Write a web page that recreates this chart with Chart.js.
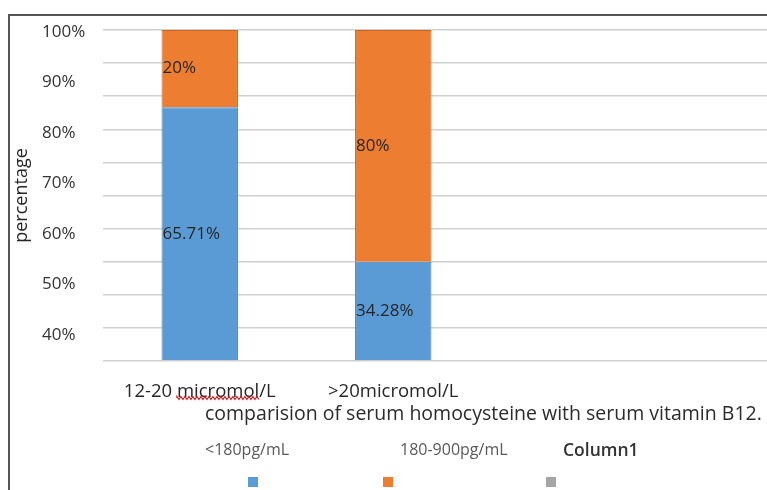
<!DOCTYPE html>
<html>
<head>
<meta charset="utf-8">
<script src="https://cdn.jsdelivr.net/npm/chart.js@4.4.1/dist/chart.umd.min.js"></script>
<style>
    html, body { margin: 0; padding: 0; background: #fff; overflow: hidden; }
    #wrap { position: relative; width: 767px; height: 490px; overflow: hidden; font-family: 'Open Sans', sans-serif; }
    #bingkai { position: absolute; left: 8px; top: 14px; width: 900px; height: 500px; border-top: 2px solid #555; border-left: 2px solid #555; }
    #chartPersen { position: absolute; left: 0; top: 0; }
    #judul { position: absolute; left: 205px; top: 399px; font-size: 19.5px; color: #2b2b2b; white-space: nowrap; }
    .leg-teks { position: absolute; top: 438px; font-size: 16px; color: #595959; white-space: nowrap; }
    .leg-kotak { position: absolute; top: 477px; width: 10px; height: 10px; }
</style>
</head>
<body>
<div id="wrap">
    <div id="bingkai"></div>
    <canvas id="chartPersen" width="880" height="490"></canvas>
    <div id="judul">comparision of serum homocysteine with serum vitamin B12.</div>
    <div id="legenda"></div>
</div>
<script>
// Data dari grafik (nilai mentah, lalu dijadikan 100% bertumpuk)
const categories = ['12-20 micromol/L', '>20micromol/L'];
const below180 = [65.71, 34.28];
const from180to900 = [20, 80];
const column1 = [null, null];
const seriesNames = ['<180pg/mL', '180-900pg/mL', 'Column1'];
const tickLabels = [40, 50, 60, 70, 80, 90, 100];

// total tiap kategori, untuk persentase tumpukan
const totals = categories.map((c, i) => below180[i] + from180to900[i] + (column1[i] || 0));
function share(arr) {
    return arr.map((v, i) => v == null ? null : v / totals[i] * 100);
}

// label nilai di dalam batang (rata kiri seperti aslinya)
const labelNilai = {
    id: 'labelNilai',
    afterDatasetsDraw(chart) {
        const ctx = chart.ctx;
        ctx.save();
        ctx.font = '17px "Open Sans"';
        ctx.fillStyle = '#262626';
        ctx.textAlign = 'left';
        ctx.textBaseline = 'middle';
        chart.data.datasets.forEach((ds, i) => {
            chart.getDatasetMeta(i).data.forEach((bar, j) => {
                const v = ds.raw[j];
                if (v == null) return;
                const p = bar.getProps(['x', 'y', 'base', 'width'], true);
                ctx.fillText(v + '%', p.x - p.width / 2 + 1, (p.y + p.base) / 2);
            });
        });
        ctx.restore();
    }
};

// garis merah bergelombang (spell check) di bawah "micromol"
const gelombang = {
    id: 'gelombang',
    afterDraw(chart) {
        const ctx = chart.ctx;
        const sx = chart.scales.x;
        const teks = categories[0];
        const kata = 'micromol';
        ctx.save();
        ctx.font = '18.5px "Open Sans"';
        const cx = sx.getPixelForTick(0);
        const x0 = cx - ctx.measureText(teks).width / 2 + ctx.measureText(teks.slice(0, teks.indexOf(kata))).width;
        const x1 = x0 + ctx.measureText(kata).width;
        const y = chart.chartArea.bottom + 37;
        ctx.strokeStyle = '#d42020';
        ctx.lineWidth = 1.2;
        ctx.beginPath();
        ctx.moveTo(x0, y);
        for (let x = x0, k = 0; x <= x1; x += 2, k++) {
            ctx.lineTo(x, y + (k % 2 ? 1.5 : -1.5));
        }
        ctx.stroke();
        ctx.restore();
    }
};

const warna = ['#5b9bd5', '#ed7d31', '#a5a5a5'];
const warnaTepi = ['#4a84bb', '#c9651f', '#8c8c8c'];
const rawData = [below180, from180to900, column1];

const chart = new Chart(document.getElementById('chartPersen'), {
    type: 'bar',
    data: {
        // dua baris kosong di tabel Excel ikut jadi kategori
        labels: categories.concat(['', '']),
        datasets: seriesNames.map((nama, i) => ({
            label: nama,
            data: share(rawData[i]),
            raw: rawData[i],
            backgroundColor: warna[i],
            borderColor: warnaTepi[i],
            borderWidth: 1,
            barPercentage: 0.395,
            categoryPercentage: 1
        }))
    },
    options: {
        responsive: false,
        animation: false,
        layout: { padding: { left: 11, top: 30, right: 3, bottom: 0 } },
        plugins: {
            legend: { display: false },
            tooltip: { enabled: false }
        },
        scales: {
            x: {
                stacked: true,
                grid: { display: false },
                border: { display: false },
                ticks: {
                    color: '#262626',
                    font: { family: 'Open Sans', size: 18.5 },
                    padding: 12,
                    maxRotation: 0,
                    autoSkip: false
                },
                afterFit: s => { s.height = 129; }
            },
            y: {
                stacked: true,
                position: 'left',
                weight: 1,
                min: 0,
                max: 100,
                ticks: { display: false, stepSize: 10 },
                grid: { color: '#d0d0d0', lineWidth: 1.5, drawTicks: false },
                border: { display: false },
                title: {
                    display: true,
                    text: 'percentage',
                    color: '#262626',
                    font: { family: 'Open Sans', size: 18 },
                    padding: 0
                },
                afterFit: s => { s.width = 31; }
            },
            yLabel: {
                position: 'left',
                weight: 0,
                min: 34.8,
                max: 100.4,
                grid: { display: false },
                border: { display: false },
                ticks: {
                    crossAlign: 'far',
                    color: '#333',
                    font: { family: 'Open Sans', size: 17 },
                    callback: v => v + '%'
                },
                afterBuildTicks: s => { s.ticks = tickLabels.map(v => ({ value: v })); },
                afterFit: s => { s.width = 61; }
            }
        }
    },
    plugins: [labelNilai, gelombang]
});

// legenda manual: teks di atas, kotak warna di bawah
const posisiLegenda = [
    { teks: 205, kotak: 248 },
    { teks: 400, kotak: 383 },
    { teks: 563, kotak: 546 }
];
const legenda = document.getElementById('legenda');
chart.data.datasets.forEach((ds, i) => {
    const t = document.createElement('div');
    t.className = 'leg-teks';
    t.style.left = posisiLegenda[i].teks + 'px';
    t.textContent = ds.label;
    if (i === 2) { t.style.fontWeight = '600'; t.style.color = '#333'; t.style.fontSize = '17.5px'; t.style.top = '437px'; }
    legenda.appendChild(t);
    const k = document.createElement('div');
    k.className = 'leg-kotak';
    k.style.left = posisiLegenda[i].kotak + 'px';
    k.style.background = ds.backgroundColor;
    legenda.appendChild(k);
});
</script>
</body>
</html>
